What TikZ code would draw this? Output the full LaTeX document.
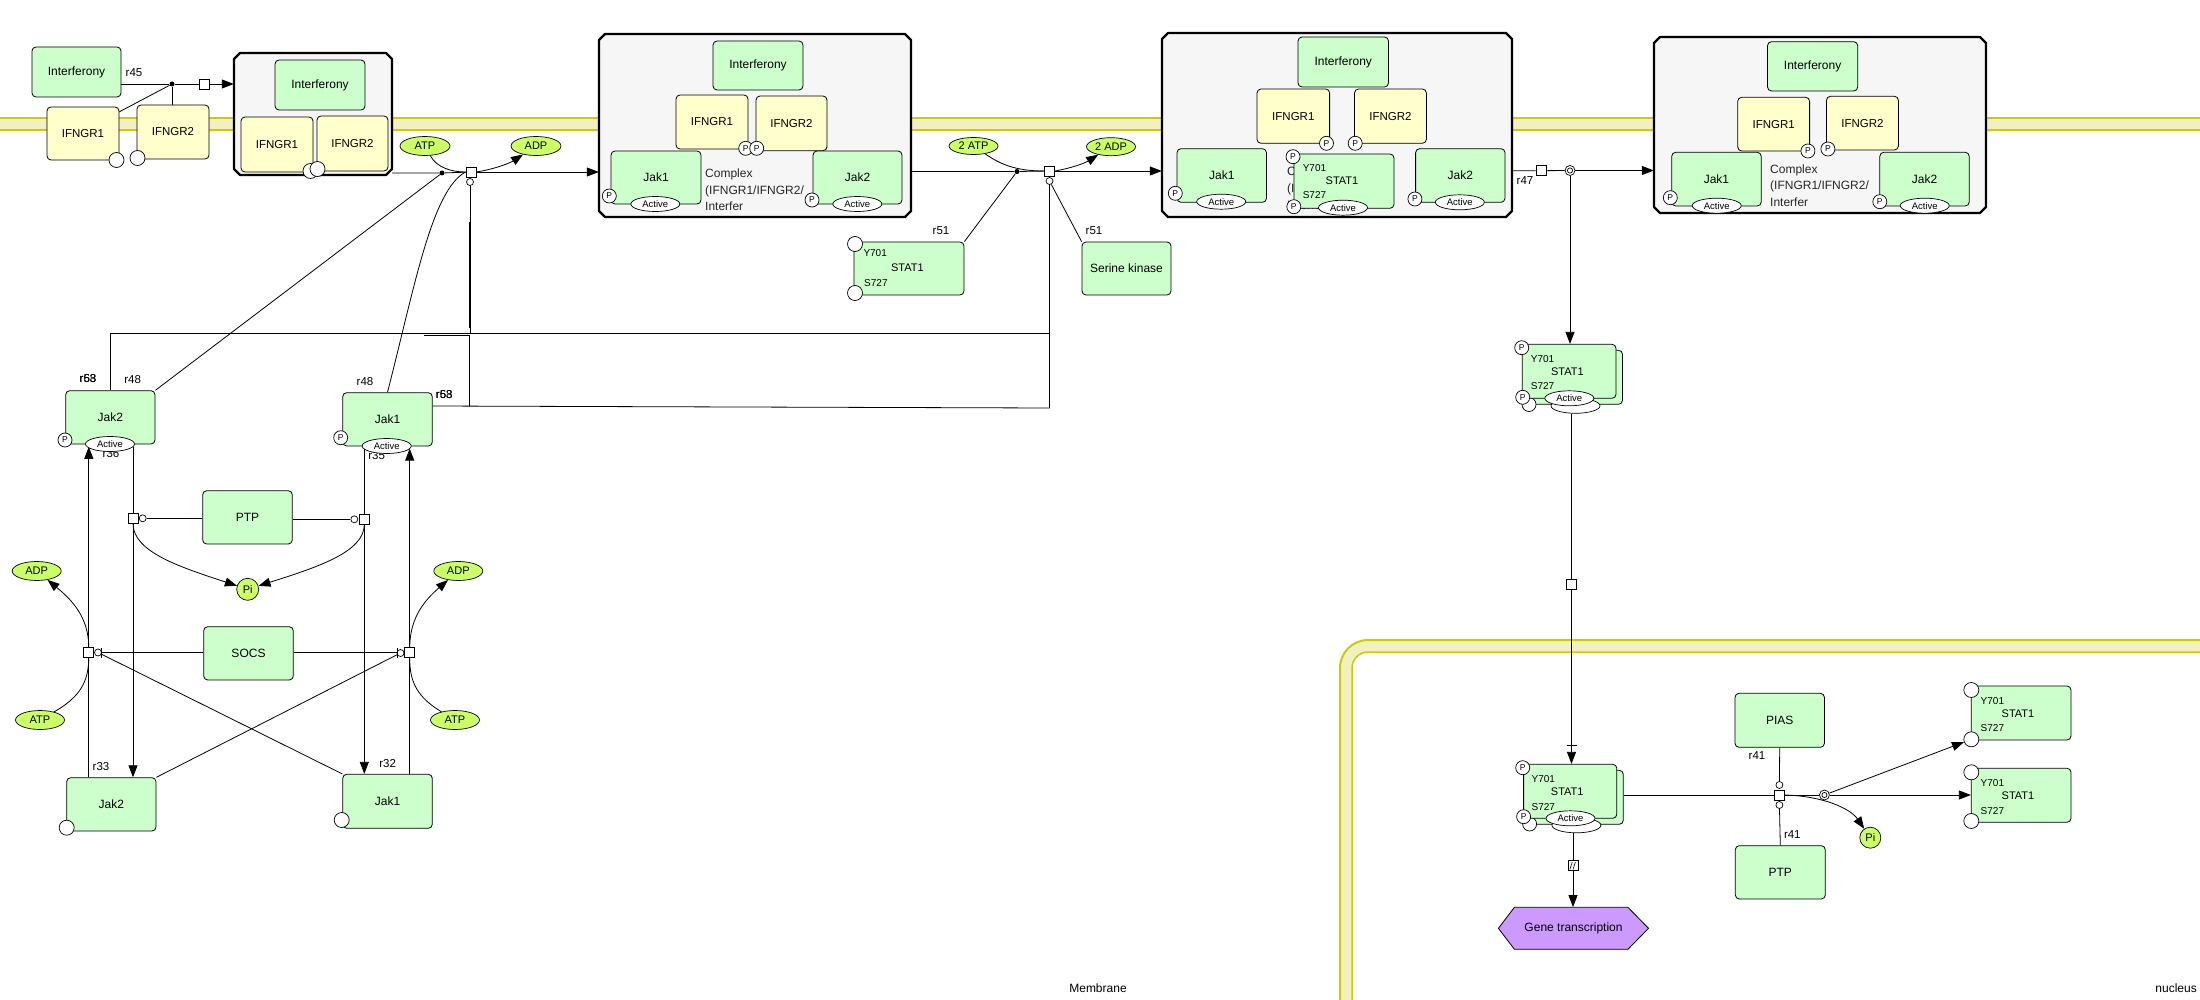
\documentclass[tikz,border=0pt]{standalone}
\usepackage{fontspec}
\setmainfont{Liberation Sans}
\usetikzlibrary{arrows.meta,shapes.geometric}
\pgfdeclarelayer{back}
\pgfdeclarelayer{bg}
\pgfdeclarelayer{mid}
\pgfsetlayers{back,bg,mid,main}
\definecolor{pgreen}{RGB}{204,255,204}
\definecolor{ryellow}{RGB}{255,255,204}
\definecolor{sgreen}{RGB}{204,255,102}
\definecolor{ppurple}{RGB}{204,153,255}
\definecolor{memline}{RGB}{204,204,0}
\definecolor{memfill}{RGB}{242,240,192}
\definecolor{cfill}{RGB}{246,246,246}
\newcommand{\fsz}[1]{\fontsize{#1}{#1}\selectfont}
\newcommand{\bx}[7]{%
  \pgfmathsetmacro\bxcx{(#3+#5)/2}%
  \pgfmathsetmacro\bxcy{(#4+#6)/2}%
  \pgfmathsetmacro\bxw{#5-#3}%
  \pgfmathsetmacro\bxh{#6-#4}%
  \node[#1, minimum width=\bxw pt, minimum height=\bxh pt] (#2) at (\bxcx,\bxcy) {#7};}
\newcommand{\cbx}[5]{%
  \draw[cplx] (#2+6,#3) -- (#4-6,#3) -- (#4,#3+6) -- (#4,#5-6) -- (#4-6,#5) -- (#2+6,#5) -- (#2,#5-6) -- (#2,#3+6) -- cycle;
  \bx{draw=none,inner sep=0pt}{#1}{#2}{#3}{#4}{#5}{}}
\tikzset{
  prot/.style={draw, line width=0.8pt, rounded corners=4pt, fill=pgreen, inner sep=0pt, font=\fsz{12}},
  rec/.style={prot, fill=ryellow, font=\fsz{11.5}},
  pcirc/.style={circle, draw, fill=white, line width=0.7pt, minimum size=14pt, inner sep=0pt, font=\fsz{8.5}},
  ecirc/.style={circle, draw, fill=white, line width=0.7pt, minimum size=15pt, inner sep=0pt},
  actv/.style={ellipse, draw, fill=white, line width=0.7pt, minimum width=49pt, minimum height=15pt, inner sep=0pt, font=\fsz{9.5}},
  smol/.style={ellipse, draw, fill=sgreen, line width=0.7pt, minimum width=50pt, minimum height=19pt, inner sep=0pt, font=\fsz{11}},
  pimol/.style={circle, draw, fill=sgreen, line width=0.7pt, minimum size=22pt, inner sep=0pt, font=\fsz{11}},
  rsq/.style={rectangle, draw, fill=white, line width=0.8pt, minimum size=10pt, inner sep=0pt},
  mcirc/.style={circle, draw, fill=white, line width=0.7pt, minimum size=7pt, inner sep=0pt},
  dcirc/.style={circle, draw, fill=white, line width=0.7pt, minimum size=10pt, inner sep=0pt},
  jdot/.style={circle, fill=black, minimum size=5pt, inner sep=0pt},
  lbl/.style={inner sep=0pt, font=\fsz{11.5}},
  slbl/.style={inner sep=0pt, font=\fsz{10}},
  stlbl/.style={inner sep=0pt, font=\fsz{11}},
  ctxt/.style={inner sep=0pt, font=\fsz{12}, anchor=base west, text=black!85},
  conn/.style={line width=0.8pt},
  arr/.style={conn, -{Triangle[length=12pt,width=9pt]}},
  cplx/.style={draw, line width=2.4pt, fill=cfill, line join=round},
}
\begin{document}
\begin{tikzpicture}[x=1pt,y=-1pt]
\useasboundingbox (0,0) rectangle (2200,1000);
\begin{pgfonlayer}{back}
  \fill[white] (0,0) rectangle (2200,1000);
\end{pgfonlayer}
\begin{pgfonlayer}{bg}
  \fill[memfill] (0,118) rectangle (2200,130);
  \draw[memline, line width=2pt] (0,118) -- (2200,118);
  \draw[memline, line width=1.5pt] (0,130) -- (2200,130);
  \draw[memfill, line width=12pt, rounded corners=22pt] (1346,1012) -- (1346,646) -- (2212,646);
  \draw[memline, line width=2pt, rounded corners=28pt] (1340,1012) -- (1340,640) -- (2212,640);
  \draw[memline, line width=1.5pt, rounded corners=16pt] (1352,1012) -- (1352,652) -- (2212,652);
\end{pgfonlayer}
\node[inner sep=0pt, font=\fsz{12}] (memlbl) at (1098,988) {Membrane};
\node[inner sep=0pt, font=\fsz{12}, anchor=east] (nuclbl) at (2197,988) {nucleus};

% ---------- r45 ----------
\bx{prot}{intf0}{32}{47}{121}{97}{Interferony}
\bx{rec}{ifa0}{47}{107}{119}{160}{IFNGR1}
\node[ecirc] (eifa0) at (116.5,160) {};
\bx{rec}{ifb0}{137}{105}{209}{159}{IFNGR2}
\node[ecirc] (eifb0) at (137.5,158) {};
\node[lbl] (l45) at (134,73) {r45};
\node[jdot] (r45d) at (172,84) {};
\node[rsq] (r45s) at (204,84) {};
\coordinate (c45a) at (119,112);

% ---------- complex 1 ----------
\cbx{cx1}{234}{53}{392}{175}
\bx{prot}{intf1}{275}{60}{365}{110}{Interferony}
\bx{rec}{ifa1}{241}{117}{313}{172}{IFNGR1}
\bx{rec}{ifb1}{317}{116}{388}{171}{IFNGR2}
\node[ecirc] (ec1a) at (310.5,171) {};
\node[ecirc] (ec1b) at (317.5,169) {};

% ---------- r48 ----------
\node[smol] (atp1) at (425,146) {ATP};
\node[smol] (adp1) at (536,146) {ADP};
\node[jdot] (r48d) at (442,173) {};
\node[rsq] (r48s) at (471,172) {};
\node[mcirc] (r48m) at (470,182) {};
\coordinate (b48) at (470,333);
\coordinate (b48c) at (424,335);
\coordinate (b48d) at (469,335);
\coordinate (b48e) at (469,406);

% ---------- complex 2 ----------
\cbx{cx2}{599}{34}{911}{217}
\node[ctxt] (cxt2a) at (705,177.6) {Complex};
\node[ctxt] (cxt2b) at (705,194.3) {(IFNGR1/IFNGR2/};
\node[ctxt] (cxt2c) at (705,211) {Interfer};
\bx{prot}{intf2}{713}{41}{803}{90}{Interferony}
\bx{rec}{ifa2}{676}{95}{748}{149}{IFNGR1}
\bx{rec}{ifb2}{756}{96}{827}{150.7}{IFNGR2}
\node[pcirc] (pifa2) at (745.7,148.3) {P};
\node[pcirc] (pifb2) at (756.7,148.3) {P};
\bx{prot}{jka2}{611}{151}{701}{204}{Jak1}
\node[pcirc] (pjka2) at (609.3,196) {P};
\node[actv] (ajka2) at (655.3,204) {Active};
\bx{prot}{jkb2}{813}{151}{902}{204}{Jak2}
\node[pcirc] (pjkb2) at (812,200) {P};
\node[actv] (ajkb2) at (857.3,204) {Active};

% ---------- r51 ----------
\node[smol, minimum width=49pt, minimum height=17pt] (atp2) at (973.5,146) {2 ATP};
\node[smol, minimum width=49pt, minimum height=18pt] (adp2) at (1111,146.7) {2 ADP};
\node[jdot] (r51d) at (1017,171.5) {};
\node[rsq] (r51s) at (1049.5,171) {};
\node[mcirc] (r51m) at (1049.5,181) {};
\coordinate (b51a) at (1049.5,333);
\coordinate (c51b) at (432.3,406);
\coordinate (b51b) at (1049.5,408);
\bx{prot}{st51}{854}{242}{964}{295}{}
\node[ecirc] (est51a) at (855,244) {};
\node[ecirc] (est51b) at (855,293) {};
\node[slbl, anchor=west] (y51) at (863.3,253.3) {Y701};
\node[stlbl] (n51) at (907.3,267.7) {STAT1};
\node[slbl, anchor=west] (s51) at (864,283.3) {S727};
\node[lbl] (l51a) at (941,230.7) {r51};
\node[lbl] (l51b) at (1094,231) {r51};
\bx{prot}{serk}{1082}{242}{1171}{295}{Serine kinase}

% ---------- complex 3 ----------
\cbx{cx3}{1162}{33}{1512}{217}
\node[ctxt] (cxt3a) at (1287,176) {Complex};
\node[ctxt] (cxt3b) at (1287,192.7) {(IFNGR1/IFNGR2/};
\node[ctxt] (cxt3c) at (1287,209.4) {Interfer};
\bx{prot}{intf3}{1298}{37}{1388.5}{87}{Interferony}
\bx{rec}{ifa3}{1257}{89}{1329.6}{143.3}{IFNGR1}
\bx{rec}{ifb3}{1354.5}{89}{1426.4}{143.3}{IFNGR2}
\node[pcirc] (pifa3) at (1326.5,143.3) {P};
\node[pcirc] (pifb3) at (1355.2,143.3) {P};
\bx{prot}{jka3}{1177}{148.7}{1266.5}{202.3}{Jak1}
\node[pcirc] (pjka3) at (1175.3,193.3) {P};
\node[actv] (ajka3) at (1221.2,201.7) {Active};
\bx{prot}{st3}{1294}{154}{1394}{208.3}{}
\node[slbl, anchor=west] (y3) at (1302.6,167.7) {Y701};
\node[stlbl] (n3) at (1342,180.7) {STAT1};
\node[slbl, anchor=west] (s3) at (1302.6,195) {S727};
\node[pcirc] (pst3a) at (1293,156.7) {P};
\node[pcirc] (pst3b) at (1293.8,206.7) {P};
\node[actv] (ast3) at (1343,207.7) {Active};
\bx{prot}{jkb3}{1415.6}{148.7}{1505}{202.3}{Jak2}
\node[pcirc] (pjkb3) at (1414.9,199) {P};
\node[actv] (ajkb3) at (1459.8,202.3) {Active};

% ---------- r47 ----------
\node[rsq] (r47s) at (1541,170.7) {};
\node[lbl] (l47) at (1525,181) {r47};
\node[dcirc] (r47c) at (1570,170.5) {};
\draw[line width=0.7pt] (r47c.center) circle[radius=2.6pt];

% ---------- complex 4 ----------
\cbx{cx4}{1654}{37}{1986}{213}
\node[ctxt] (cxt4a) at (1770,173.3) {Complex};
\node[ctxt] (cxt4b) at (1770,190) {(IFNGR1/IFNGR2/};
\node[ctxt] (cxt4c) at (1770,206.6) {Interfer};
\bx{prot}{intf4}{1767.5}{41.7}{1857.7}{91}{Interferony}
\bx{rec}{ifa4}{1737.7}{97.3}{1809.6}{151}{IFNGR1}
\bx{rec}{ifb4}{1826.5}{96.3}{1898.4}{150}{IFNGR2}
\node[pcirc] (pifa4) at (1807.9,151) {P};
\node[pcirc] (pifb4) at (1827.9,149) {P};
\bx{prot}{jka4}{1671.7}{152.3}{1761.2}{206}{Jak1}
\node[pcirc] (pjka4) at (1670.3,197.7) {P};
\node[actv] (ajka4) at (1716.7,205.7) {Active};
\bx{prot}{jkb4}{1879.8}{152.3}{1969.2}{206}{Jak2}
\node[pcirc] (pjkb4) at (1879.8,201.7) {P};
\node[actv] (ajkb4) at (1924.7,205.7) {Active};

% ---------- STAT1 dimer (cytosol) ----------
\bx{prot}{stcb}{1528.8}{350.3}{1622.5}{404.3}{}
\node[ecirc, minimum size=14pt] (pstcb) at (1529,404.5) {};
\node[actv] (astcb) at (1575.5,405.8) {};
\bx{prot}{stc}{1522.3}{344.3}{1616}{398.3}{}
\node[slbl, anchor=west] (yc) at (1530.7,359.3) {Y701};
\node[stlbl] (nc) at (1567.3,371.7) {STAT1};
\node[slbl, anchor=west] (sc) at (1530.7,386) {S727};
\node[pcirc] (pstca) at (1521.7,347.7) {P};
\node[pcirc] (pstcc) at (1522.7,397.3) {P};
\node[actv] (astc) at (1569.3,398.3) {Active};

\node[rsq] (msq) at (1571.5,584) {};
\coordinate (tka) at (1566.5,745);
\coordinate (tkb) at (1576.5,745);

% ---------- STAT1 dimer (nucleus) ----------
\bx{prot}{stnb}{1530}{770.3}{1623.3}{824.3}{}
\node[ecirc, minimum size=14pt] (pstnb) at (1529.6,824) {};
\node[actv] (astnb) at (1576.4,825.3) {};
\bx{prot}{stn}{1523.6}{764.3}{1616.8}{818.3}{}
\node[slbl, anchor=west] (yn) at (1531.4,779) {Y701};
\node[stlbl] (nn) at (1567.2,791.7) {STAT1};
\node[slbl, anchor=west] (sn) at (1531.4,806.7) {S727};
\node[pcirc] (pstna) at (1522.7,767.7) {P};
\node[pcirc] (pstnc) at (1523.6,816.7) {P};
\node[actv] (astn) at (1570.5,818.3) {Active};

% gene transcription
\draw[fill=ppurple, line width=0.8pt] (1498.4,928.3) -- (1514.4,907.3) -- (1627.9,907.3) -- (1648.5,928.3) -- (1627.9,949.3) -- (1514.4,949.3) -- cycle;
\node[draw=none, minimum width=150pt, minimum height=42pt, inner sep=0pt, font=\fsz{12}] (gene) at (1573.5,928.3) {Gene transcription};
\node[rsq] (gsq) at (1573,865.7) {};
\draw[line width=0.6pt] (1569.8,869.5) -- (1572.2,862) (1573,869.5) -- (1575.4,862);

% ---------- r41 ----------
\node[rsq] (r41s) at (1779.4,795) {};
\node[mcirc] (r41ma) at (1779.4,785) {};
\node[mcirc] (r41mb) at (1779.4,805) {};
\node[dcirc] (r41c) at (1824.4,795) {};
\draw[line width=0.7pt] (r41c.center) circle[radius=2.6pt];
\bx{prot}{pias}{1735}{693.3}{1824.4}{747.3}{PIAS}
\node[lbl] (l41a) at (1757,756) {r41};
\bx{prot}{ptpn}{1735.3}{845.7}{1825.3}{899}{PTP}
\node[lbl] (l41b) at (1792.3,834.3) {r41};
\node[pimol, minimum size=21pt] (pin) at (1870.3,837.7) {Pi};
\bx{prot}{stu}{1971.3}{686}{2071}{740}{}
\node[ecirc] (esu1) at (1971.3,690) {};
\node[ecirc] (esu2) at (1971.3,739.3) {};
\node[slbl, anchor=west] (yu) at (1980.5,700.7) {Y701};
\node[stlbl] (nu) at (2018,714) {STAT1};
\node[slbl, anchor=west] (su) at (1980.5,728.3) {S727};
\bx{prot}{stl}{1971.3}{768.3}{2071}{822.3}{}
\node[ecirc] (esl1) at (1971.3,772.3) {};
\node[ecirc] (esl2) at (1971.3,821) {};
\node[slbl, anchor=west] (yl) at (1980.5,782.7) {Y701};
\node[stlbl] (nl) at (2018,796) {STAT1};
\node[slbl, anchor=west] (sl) at (1980.5,810.7) {S727};

% ---------- left block ----------
\node[lbl] (l53a) at (88,379) {r53};
\node[lbl] (l68a) at (88,379) {r68};
\node[lbl] (l48a) at (132.7,379.7) {r48};
\node[lbl] (l36) at (111,453.5) {r36};
\node[lbl] (l48b) at (365,381.3) {r48};
\node[lbl] (l53b) at (444.3,395) {r53};
\node[lbl] (l68b) at (444.3,395) {r68};
\node[lbl] (l35) at (376.7,456) {r35};
\node[lbl] (l33) at (101,766.7) {r33};
\node[lbl] (l32) at (387.7,763.3) {r32};

\bx{prot}{jak2u}{65.7}{390.7}{155}{444}{Jak2}
\node[pcirc] (pjak2u) at (65,440) {P};
\node[actv] (ajak2u) at (110,444) {Active};
\bx{prot}{jak1u}{342.7}{392.7}{432.3}{446}{Jak1}
\node[pcirc] (pjak1u) at (340.7,437.7) {P};
\node[actv] (ajak1u) at (386.7,446) {Active};

\bx{prot}{ptp}{202.7}{490.7}{292.3}{544}{PTP}
\node[rsq] (r36s) at (133,518) {};
\node[mcirc] (r36m) at (142.7,518.3) {};
\node[rsq] (r35s) at (364.3,519.3) {};
\node[mcirc] (r35m) at (354.3,519.3) {};
\node[pimol] (pil) at (247.7,589.3) {Pi};
\node[smol, minimum width=49pt] (adpl) at (36.7,571) {ADP};
\node[smol, minimum width=49pt] (adpr) at (458.3,571) {ADP};

\bx{prot}{socs}{203.7}{626.7}{293.3}{680}{SOCS}
\node[rsq] (r33s) at (88.8,652.5) {};
\node[mcirc] (r33m) at (98,652.5) {};
\draw[line width=1pt] (101.5,647.5) -- (101.5,657.5);
\node[rsq] (r32s) at (409.7,652.7) {};
\node[mcirc] (r32m) at (400.5,653) {};
\draw[line width=1pt] (397,647.7) -- (397,657.7);
\node[smol, minimum width=49pt] (atpl) at (40,720) {ATP};
\node[smol, minimum width=49pt] (atpr) at (455,720) {ATP};

\bx{prot}{jak2l}{66.7}{777.7}{156}{831}{Jak2}
\node[ecirc] (ejak2l) at (66.7,827.7) {};
\bx{prot}{jak1l}{342.7}{774.3}{432.3}{828.3}{Jak1}
\node[ecirc] (ejak1l) at (341.7,820) {};

\coordinate (c36a) at (133,446.6);
\coordinate (c35a) at (364.3,449);
\coordinate (c33t) at (88.8,446.8);
\coordinate (c32t) at (409.7,448.6);
\coordinate (c33b) at (101.5,652.5);
\coordinate (c32b) at (397,652.7);

% ---------- connectors ----------
\begin{pgfonlayer}{mid}
% r45
\draw[conn] (intf0.east |- r45d) -- (r45d) -- (r45s);
\draw[arr] (r45s) -- (cx1.west |- r45s);
\draw[conn] (c45a) -- (r45d);
\draw[conn] (r45d |- ifb0.north) -- (r45d);
% r48
\draw[conn] (cx1.east |- r48d) -- (r48d) -- (r48s);
\draw[arr] (r48s) -- (cx2.west |- r48s);
\draw[conn] (atp1) .. controls (437,168) and (452,172) .. (r48s.west);
\draw[arr] (r48s.east) .. controls (495,169) and (510,163) .. (adp1);
\draw[conn] (jak2u.north east) -- (r48d);
\draw[conn] (jak1u.north) .. controls (415,285) and (432,190) .. (r48s.west);
\draw[conn] (r48m) -- (b48);
\draw[line width=1.8pt] (470,222) -- (470,328);
\draw[conn] (b48c) -- (b48d) -- (b48e);
% r51
\draw[conn] (cx2.east |- r51d) -- (r51d) -- (r51s);
\draw[arr] (r51s) -- (cx3.west |- r51s);
\draw[conn] (st51.north east) -- (r51d);
\draw[conn] (atp2) .. controls (1000,164) and (1015,171) .. (r51s.west);
\draw[arr] (r51s.east) .. controls (1072,168) and (1085,163) .. (adp2);
\draw[conn] (serk.north west) -- (r51m);
\draw[conn] (jak2u.north) |- (b51a) -- (r51m);
\draw[conn] (c51b) -- (b51b) -- (r51m);
\draw[line width=1.8pt] (1049.5,258) -- (1049.5,296);
% r47
\draw[conn] (cx3.east |- r47s) -- (r47s) -- (r47c);
\draw[arr] (r47c) -- (cx4.west |- r47c);
\draw[arr] (r47c) -- (r47c |- stc.north);
% translocation
\draw[conn] (msq |- astcb.south) -- (msq);
\draw[arr] (msq) -- (msq |- stn.north);
\draw[conn] (tka) -- (tkb);
% gene transcription
\draw[conn] (gsq |- astnb.south) -- (gsq);
\draw[arr] (gsq) -- (gsq |- gene.north);
% r41
\draw[conn] (stnb.east |- r41s) -- (r41s) -- (r41c);
\draw[conn] (pias.south) -- (r41ma);
\draw[conn] (ptpn.north) -- (r41mb);
\draw[arr] (r41c) -- (stl.west |- r41c);
\draw[arr] (r41c) -- (esu2);
\draw[arr] (r41s.east) .. controls (1822,796) and (1850,808) .. (pin);
% left block
\draw[conn] (c36a) -- (r36s);
\draw[arr] (r36s) -- (r36s |- jak2l.north);
\draw[conn] (ptp.west |- r36m) -- (r36m);
\draw[arr] (r36s.south) .. controls (133,552) and (180,567) .. (pil);
\draw[conn] (c35a) -- (r35s);
\draw[arr] (r35s) -- (r35s |- jak1l.north);
\draw[conn] (ptp.east |- r35m) -- (r35m);
\draw[arr] (r35s.south) .. controls (364,552) and (318,567) .. (pil);
\draw[conn] (r33s |- jak2l.north) -- (r33s);
\draw[arr] (r33s) -- (c33t);
\draw[arr] (r33s.north) .. controls (88.5,617) and (72,600) .. (adpl);
\draw[conn] (atpl) .. controls (80,697) and (88.5,682) .. (r33s.south);
\draw[conn] (socs.west |- r33s) -- (c33b);
\draw[conn] (r33m) -- (jak1l.north west);
\draw[conn] (r32s |- jak1l.north) -- (r32s);
\draw[arr] (r32s) -- (c32t);
\draw[arr] (r32s.north) .. controls (410,617) and (425,600) .. (adpr);
\draw[conn] (atpr) .. controls (417,697) and (409.7,682) .. (r32s.south);
\draw[conn] (socs.east |- r32s) -- (c32b);
\draw[conn] (r32m) -- (jak2l.north east);
\end{pgfonlayer}
\end{tikzpicture}
\end{document}
